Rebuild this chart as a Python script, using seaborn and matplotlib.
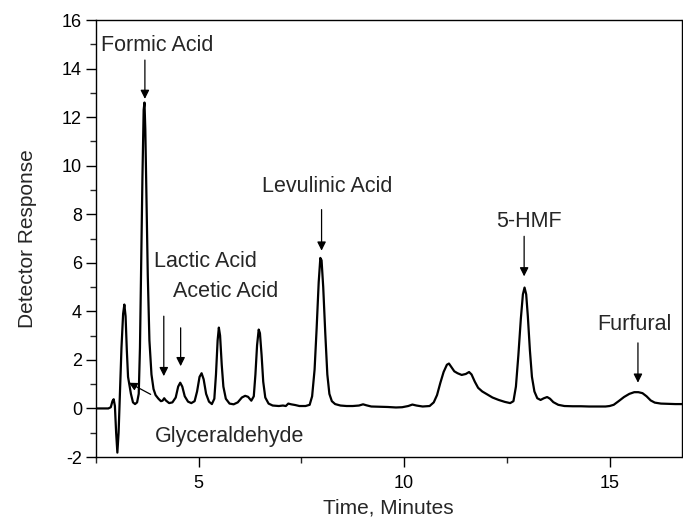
import matplotlib
matplotlib.use("Agg")
import matplotlib.pyplot as plt
import seaborn as sns
import pandas as pd
from matplotlib.ticker import MultipleLocator

# ---- data ----
time_min = [
    2.50, 2.80, 2.86, 2.90, 2.93, 2.96, 2.99, 3.02, 3.05, 3.08, 3.12, 3.16, 3.19, 3.22,
    3.25, 3.28, 3.31, 3.35, 3.40, 3.45, 3.50, 3.54, 3.57, 3.60, 3.63, 3.66, 3.68, 3.70,
    3.73, 3.76, 3.80, 3.85, 3.90, 3.95, 4.02, 4.08, 4.12, 4.16, 4.20, 4.28, 4.36, 4.44,
    4.50, 4.55, 4.60, 4.66, 4.74, 4.82, 4.90, 4.96, 5.02, 5.07, 5.12, 5.18, 5.25, 5.32,
    5.38, 5.42, 5.46, 5.49, 5.52, 5.56, 5.60, 5.66, 5.75, 5.85, 5.95, 6.05, 6.13, 6.20,
    6.28, 6.34, 6.38, 6.42, 6.46, 6.49, 6.53, 6.57, 6.62, 6.70, 6.80, 6.95, 7.05, 7.12,
    7.18, 7.25, 7.35, 7.45, 7.60, 7.70, 7.76, 7.82, 7.87, 7.92, 7.96, 7.99, 8.03, 8.08,
    8.13, 8.18, 8.24, 8.32, 8.45, 8.60, 8.75, 8.90, 9.00, 9.08, 9.20, 9.40, 9.60, 9.80,
    9.95, 10.10, 10.20, 10.30, 10.45, 10.62, 10.72, 10.80, 10.88, 10.96, 11.04, 11.09,
    11.15, 11.22, 11.30, 11.40, 11.50, 11.58, 11.64, 11.72, 11.80, 11.90, 12.00, 12.15,
    12.30, 12.45, 12.58, 12.66, 12.72, 12.78, 12.84, 12.89, 12.93, 12.97, 13.01, 13.06,
    13.11, 13.17, 13.24, 13.32, 13.40, 13.48, 13.55, 13.63, 13.75, 13.90, 14.10, 14.30,
    14.50, 14.70, 14.90, 15.00, 15.10, 15.22, 15.35, 15.48, 15.60, 15.70, 15.80, 15.90,
    16.00, 16.10, 16.25, 16.45, 16.60, 16.80,
]
response = [
    0.00, 0.00, 0.05, 0.30, 0.38, 0.10, -1.00, -1.82, -1.00, 0.50, 2.50, 3.90, 4.28, 3.80,
    2.40, 1.30, 1.00, 0.60, 0.25, 0.18, 0.25, 0.60, 2.50, 6.00, 9.50, 12.30, 12.60, 11.50,
    8.50, 5.50, 2.80, 1.40, 0.80, 0.55, 0.40, 0.30, 0.32, 0.42, 0.33, 0.22, 0.25, 0.45,
    0.90, 1.06, 0.90, 0.50, 0.28, 0.22, 0.30, 0.70, 1.30, 1.45, 1.20, 0.60, 0.28, 0.18,
    0.40, 1.40, 2.80, 3.33, 3.00, 1.80, 0.90, 0.40, 0.20, 0.17, 0.25, 0.45, 0.52, 0.48,
    0.32, 0.50, 1.40, 2.60, 3.25, 3.10, 2.20, 1.10, 0.45, 0.20, 0.12, 0.10, 0.12, 0.10,
    0.20, 0.17, 0.14, 0.10, 0.10, 0.15, 0.50, 1.60, 3.30, 5.20, 6.20, 6.10, 5.00, 3.10,
    1.40, 0.60, 0.30, 0.18, 0.12, 0.10, 0.10, 0.12, 0.17, 0.13, 0.08, 0.07, 0.06, 0.04,
    0.05, 0.10, 0.16, 0.12, 0.08, 0.10, 0.25, 0.55, 1.05, 1.50, 1.80, 1.85,
    1.70, 1.53, 1.45, 1.38, 1.42, 1.50, 1.40, 1.10, 0.85, 0.70, 0.60, 0.45,
    0.35, 0.27, 0.22, 0.30, 0.90, 2.20, 3.70, 4.70, 4.98, 4.70, 3.80, 2.40,
    1.30, 0.70, 0.42, 0.35, 0.42, 0.47, 0.40, 0.26, 0.15, 0.10, 0.09, 0.09,
    0.08, 0.08, 0.08, 0.10, 0.15, 0.30, 0.47, 0.60, 0.67, 0.67, 0.63, 0.50,
    0.33, 0.24, 0.20, 0.19, 0.18, 0.18,
]

# annotations: label, text position (t, y), arrow start (t, y), arrow tip (t, y)
peak_labels = ["Formic Acid", "Lactic Acid", "Acetic Acid", "Levulinic Acid", "5-HMF", "Furfural"]
label_pos = [(4.00, 14.95), (5.17, 6.05), (5.66, 4.80), (8.13, 9.15), (13.04, 7.70), (15.61, 3.45)]
arrow_from = [(3.69, 14.35), (4.15, 3.80), (4.56, 3.32), (7.99, 8.19), (12.92, 7.09), (15.69, 2.70)]
arrow_to = [(3.69, 12.75), (4.15, 1.33), (4.56, 1.74), (7.99, 6.50), (12.92, 5.44), (15.69, 1.06)]

glyc_label = "Glyceraldehyde"
glyc_pos = (5.75, -1.15)
glyc_from = (3.83, 0.58)
glyc_to = (3.30, 1.06)

x_ticks = [5, 10, 15]
y_ticks = [-2, 0, 2, 4, 6, 8, 10, 12, 14, 16]

# ---- styling ----
sns.set_style("ticks")
plt.rcParams["font.family"] = ["Liberation Sans", "DejaVu Sans"]

fig = plt.figure(figsize=(6.83, 5.24), dpi=100)
ax = fig.add_axes([96 / 683, 67 / 524, 585.5 / 683, 437 / 524])

df = pd.DataFrame({"Time": time_min, "Response": response})
sns.lineplot(data=df, x="Time", y="Response", ax=ax, color="black",
             linewidth=1.6, estimator=None, sort=False)

ax.set_xlim(2.5, 16.75)
ax.set_ylim(-2, 16)
ax.set_xticks(x_ticks)
ax.set_yticks(y_ticks)
ax.set_yticklabels([str(v) for v in y_ticks])
ax.xaxis.set_minor_locator(MultipleLocator(2.5))
ax.yaxis.set_minor_locator(MultipleLocator(1))
ax.tick_params(axis="both", which="major", direction="out", length=7, width=1,
               labelsize=13, colors="black")
ax.tick_params(axis="x", which="major", pad=6)
ax.tick_params(axis="y", which="major", pad=3)
ax.tick_params(axis="both", which="minor", direction="out", length=4, width=1)
ax.tick_params(top=False, right=False, which="both")
for s in ax.spines.values():
    s.set_visible(True)
    s.set_linewidth(1.0)
    s.set_color("black")

ax.set_xlabel("Time, Minutes", fontsize=15, labelpad=5)
ax.set_ylabel("Detector Response", fontsize=15, labelpad=18)

arrow_kw = dict(arrowstyle="-|>", color="black", lw=0.9, mutation_scale=13,
                shrinkA=0, shrinkB=0)
for lab, tp, a0, a1 in zip(peak_labels, label_pos, arrow_from, arrow_to):
    ax.text(tp[0], tp[1], lab, ha="center", va="center", fontsize=15.5)
    ax.annotate("", xy=a1, xytext=a0, arrowprops=arrow_kw)

ax.text(glyc_pos[0], glyc_pos[1], glyc_label, ha="center", va="center", fontsize=15.5)
ax.annotate("", xy=glyc_to, xytext=glyc_from,
            arrowprops=dict(arrowstyle="-|>", color="black", lw=0.9, mutation_scale=12,
                            shrinkA=0, shrinkB=0))

fig.savefig("out.png", dpi=100)
